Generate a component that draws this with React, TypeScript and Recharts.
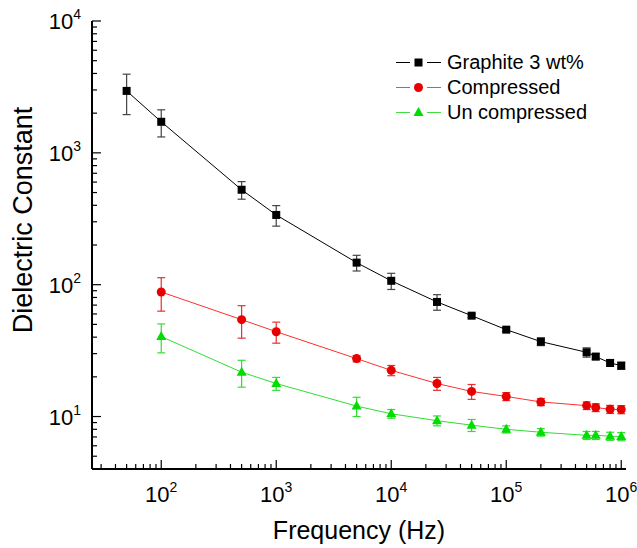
import { LineChart, Line, XAxis, YAxis, ErrorBar, Legend } from "recharts";

// frequencies (Hz)
const freqGraphite = [50, 100, 500, 1000, 5000, 10000, 25000, 50000, 100000, 200000, 500000, 600000, 800000, 1000000];
const freq = [100, 500, 1000, 5000, 10000, 25000, 50000, 100000, 200000, 500000, 600000, 800000, 1000000];

// dielectric constant values + error
const graphite = [2950, 1720, 525, 338, 147, 107, 74, 58.2, 45.6, 37, 30.7, 28.5, 25.5, 24.3];
const graphiteErr = [1000, 400, 80, 60, 20, 15, 10, 2, 1.5, 2.5, 2.5, 1.5, 1.5, 1.5];
const compressed = [88, 54.3, 44, 27.5, 22.4, 17.8, 15.5, 14.2, 12.9, 12.1, 11.7, 11.35, 11.3];
const compressedErr = [25, 15, 8, 1.5, 2, 2, 2, 1, 0.8, 0.8, 0.8, 0.8, 0.8];
const uncompressed = [40.4, 21.7, 17.8, 12, 10.5, 9.3, 8.6, 8.0, 7.6, 7.2, 7.2, 7.1, 7.05];
const uncompressedErr = [10, 5, 2, 2, 0.8, 0.8, 0.9, 0.5, 0.5, 0.5, 0.5, 0.5, 0.5];

const seriesNames = ["Graphite 3 wt%", "Compressed", "Un compressed"];

const xMajor = [100, 1000, 10000, 100000, 1000000];
const yMajor = [10, 100, 1000, 10000];
const minorSteps = [2, 3, 4, 5, 6, 7, 8, 9];

const X_DOMAIN = [25, 1.1e6];
const Y_DOMAIN = [4, 10000];
const FONT = "'Liberation Sans', Arial, sans-serif";

const toRows = (xs: number[], ys: number[], es: number[]) =>
  xs.map((x, i) => ({ x, y: ys[i], err: es[i] }));

const withMinors = (majors: number[], lo: number, hi: number) => {
  const out: number[] = [];
  [majors[0] / 10, ...majors].forEach((m) => {
    out.push(m);
    minorSteps.forEach((s) => out.push(m * s));
  });
  return out.filter((v) => v >= lo && v <= hi).sort((a, b) => a - b);
};

const xTicks = withMinors(xMajor, X_DOMAIN[0], X_DOMAIN[1]);
const yTicks = withMinors(yMajor, Y_DOMAIN[0], Y_DOMAIN[1]);

const isMajor = (v: number) => Math.abs(Math.log10(v) - Math.round(Math.log10(v))) < 1e-9;

const XTick = (props: any) => {
  const { x, y, payload } = props;
  const major = isMajor(payload.value);
  return (
    <g>
      <line x1={x} x2={x} y1={y} y2={y - (major ? 9 : 5)} stroke="#000" strokeWidth={1.2} />
      {major && (
        <text x={x} y={y + 33} textAnchor="middle" fontFamily={FONT} fontSize={22} fill="#000">
          <tspan>10</tspan>
          <tspan dy={-10} fontSize={14}>{Math.round(Math.log10(payload.value))}</tspan>
        </text>
      )}
    </g>
  );
};

const YTick = (props: any) => {
  const { x, y, payload } = props;
  const major = isMajor(payload.value);
  return (
    <g>
      <line x1={x} x2={x + (major ? 9 : 5)} y1={y} y2={y} stroke="#000" strokeWidth={1.2} />
      {major && (
        <text x={x - 11} y={y + 8} textAnchor="end" fontFamily={FONT} fontSize={22} fill="#000">
          <tspan>10</tspan>
          <tspan dy={-10} fontSize={14}>{Math.round(Math.log10(payload.value))}</tspan>
        </text>
      )}
    </g>
  );
};

const Square = (p: any) => <rect key={`s-${p.index}`} x={p.cx - 4} y={p.cy - 4} width={8} height={8} fill="#000" />;
const Circle = (p: any) => <circle key={`c-${p.index}`} cx={p.cx} cy={p.cy} r={4.5} fill="#e80000" />;
const Tri = (p: any) => (
  <polygon
    key={`t-${p.index}`}
    points={`${p.cx},${p.cy - 5.5} ${p.cx - 5},${p.cy + 3.5} ${p.cx + 5},${p.cy + 3.5}`}
    fill="#00dd00"
  />
);

const legendStyle = [
  { line: "#000", marker: (cx: number, cy: number) => <rect x={cx - 4} y={cy - 4} width={8} height={8} fill="#000" /> },
  { line: "#ff4444", marker: (cx: number, cy: number) => <circle cx={cx} cy={cy} r={4.5} fill="#e80000" /> },
  {
    line: "#44dd44",
    marker: (cx: number, cy: number) => (
      <polygon points={`${cx},${cy - 5.5} ${cx - 5},${cy + 3.5} ${cx + 5},${cy + 3.5}`} fill="#00dd00" />
    ),
  },
];

const LegendBox = () => (
  <div style={{ fontFamily: FONT, fontSize: 20, color: "#000" }}>
    {seriesNames.map((name, i) => (
      <div key={name} style={{ display: "flex", alignItems: "center", height: 25 }}>
        <svg width={51} height={25} style={{ display: "block" }}>
          <line x1={0} x2={14} y1={12.5} y2={12.5} stroke={legendStyle[i].line} strokeWidth={1} />
          <line x1={31} x2={45} y1={12.5} y2={12.5} stroke={legendStyle[i].line} strokeWidth={1} />
          {legendStyle[i].marker(22.5, 12.5)}
        </svg>
        <span style={{ whiteSpace: "nowrap" }}>{name}</span>
      </div>
    ))}
  </div>
);

export default function App() {
  return (
    <div style={{ position: "absolute", left: 0, top: 0, background: "#fff" }}>
      <LineChart width={637} height={548} margin={{ top: 21, right: 11, bottom: 0, left: 0 }}>
        <XAxis
          dataKey="x"
          type="number"
          scale="log"
          domain={X_DOMAIN}
          allowDataOverflow
          ticks={xTicks}
          interval={0}
          tickSize={0}
          tickMargin={0}
          tick={<XTick />}
          height={79}
          axisLine={{ stroke: "#000", strokeWidth: 2 }}
          tickLine={false}
          label={{ value: "Frequency (Hz)", position: "insideBottom", offset: 9, fontSize: 25, fontFamily: FONT, fill: "#000" }}
        />
        <XAxis
          xAxisId="top"
          orientation="top"
          type="number"
          scale="log"
          domain={X_DOMAIN}
          allowDataOverflow
          height={0}
          tick={false}
          tickLine={false}
          axisLine={{ stroke: "#7a7a7a", strokeWidth: 1.5 }}
        />
        <YAxis
          type="number"
          scale="log"
          domain={Y_DOMAIN}
          allowDataOverflow
          ticks={yTicks}
          interval={0}
          tickSize={0}
          tickMargin={0}
          tick={<YTick />}
          width={92}
          axisLine={{ stroke: "#000", strokeWidth: 2 }}
          tickLine={false}
          label={{
            content: (lp: any) => {
              const vb = lp.viewBox;
              const cx = 32;
              const cy = vb.y + vb.height / 2 - 25;
              return (
                <text
                  x={cx}
                  y={cy}
                  transform={`rotate(-90 ${cx} ${cy})`}
                  textAnchor="middle"
                  fontFamily={FONT}
                  fontSize={27}
                  fill="#000"
                >
                  Dielectric Constant
                </text>
              );
            },
          }}
        />
        <YAxis
          yAxisId="right"
          orientation="right"
          type="number"
          scale="log"
          domain={Y_DOMAIN}
          allowDataOverflow
          width={0}
          tick={false}
          tickLine={false}
          axisLine={{ stroke: "#7a7a7a", strokeWidth: 1.5 }}
        />
        <Line
          data={toRows(freqGraphite, graphite, graphiteErr)}
          dataKey="y"
          name={seriesNames[0]}
          stroke="#000"
          strokeWidth={1}
          dot={Square}
          activeDot={false}
          isAnimationActive={false}
        >
          <ErrorBar dataKey="err" direction="y" width={4} stroke="#444" strokeWidth={1.2} isAnimationActive={false} />
        </Line>
        <Line
          data={toRows(freq, compressed, compressedErr)}
          dataKey="y"
          name={seriesNames[1]}
          stroke="#ff3030"
          strokeWidth={1}
          dot={Circle}
          activeDot={false}
          isAnimationActive={false}
        >
          <ErrorBar dataKey="err" direction="y" width={4} stroke="#e83030" strokeWidth={1.2} isAnimationActive={false} />
        </Line>
        <Line
          data={toRows(freq, uncompressed, uncompressedErr)}
          dataKey="y"
          name={seriesNames[2]}
          stroke="#33dd33"
          strokeWidth={1}
          dot={Tri}
          activeDot={false}
          isAnimationActive={false}
        >
          <ErrorBar dataKey="err" direction="y" width={4} stroke="#33dd33" strokeWidth={1.2} isAnimationActive={false} />
        </Line>
        <Legend
          layout="vertical"
          align="center"
          verticalAlign="middle"
          content={<LegendBox />}
          wrapperStyle={{ position: "absolute", left: 396, top: 50, width: 220 }}
        />
      </LineChart>
    </div>
  );
}
